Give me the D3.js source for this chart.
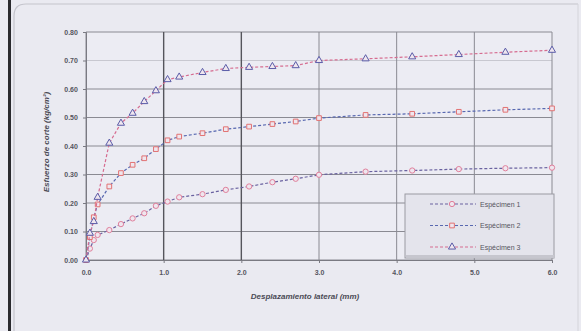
<!DOCTYPE html>
<html><head><meta charset="utf-8">
<script src="https://cdn.jsdelivr.net/npm/d3@7"></script>
<style>
html,body{margin:0;padding:0;background:#eaeaf1;}
svg{display:block;font-family:"Liberation Sans",Arial,sans-serif;}
</style></head>
<body><svg id="c" width="581" height="331"></svg>
<script>
const xValues = [0, 0.05, 0.1, 0.15, 0.3, 0.45, 0.6, 0.75, 0.9, 1.05, 1.2, 1.5, 1.8, 2.1, 2.4, 2.7, 3.0, 3.6, 4.2, 4.8, 5.4, 6.0];
const esp1 = [0, 0.04, 0.07, 0.088, 0.105, 0.126, 0.146, 0.164, 0.19, 0.205, 0.22, 0.231, 0.246, 0.258, 0.273, 0.285, 0.299, 0.31, 0.314, 0.319, 0.322, 0.324];
const esp2 = [0, 0.08, 0.15, 0.195, 0.258, 0.305, 0.334, 0.357, 0.389, 0.42, 0.433, 0.445, 0.459, 0.468, 0.477, 0.486, 0.498, 0.509, 0.513, 0.52, 0.527, 0.532];
const esp3 = [0, 0.094, 0.135, 0.22, 0.41, 0.48, 0.515, 0.556, 0.594, 0.633, 0.642, 0.658, 0.672, 0.676, 0.679, 0.682, 0.70, 0.706, 0.713, 0.721, 0.729, 0.736];
const seriesNames = ["Espécimen 1", "Espécimen 2", "Espécimen 3"];
const xTicks = [0, 1, 2, 3, 4, 5, 6];
const yTicks = [0, 0.1, 0.2, 0.3, 0.4, 0.5, 0.6, 0.7, 0.8];
const xTitle = "Desplazamiento lateral (mm)";
const yTitle = "Esfuerzo de corte (kg/cm²)";

const svg = d3.select("#c");
// page decorations
svg.append("rect").attr("x",0).attr("y",0).attr("width",581).attr("height",331).attr("fill","#eaeaf1");
svg.append("rect").attr("x",8).attr("y",0).attr("width",3).attr("height",331).attr("fill","#2a2a2e");
svg.append("path").attr("d","M14,345 L14,16 Q14,4 26,4 L578,4").attr("fill","none").attr("stroke","#c4c4cc").attr("stroke-width",1.2);
svg.append("line").attr("x1",578).attr("x2",578).attr("y1",4).attr("y2",331).attr("stroke","#d4d4da");

const x = d3.scaleLinear().domain([0,6]).range([86,552]);
const y = d3.scaleLinear().domain([0,0.8]).range([260,32]);

const g = svg.append("g");
g.append("rect").attr("x",x(0)).attr("y",y(0.8)).attr("width",x(6)-x(0)).attr("height",y(0)-y(0.8)).attr("fill","#ececf3");

// gridlines
g.append("g").selectAll("line").data(yTicks).join("line")
  .attr("x1",x(0)).attr("x2",x(6)).attr("y1",d=>y(d)).attr("y2",d=>y(d))
  .attr("stroke",d=>Math.abs(d-0.7)<1e-6?"#c8c8d0":"#8a8a92").attr("stroke-width",1);
g.append("g").selectAll("line").data(xTicks).join("line")
  .attr("y1",y(0)).attr("y2",y(0.8)).attr("x1",d=>x(d)).attr("x2",d=>x(d))
  .attr("stroke",d=>(d===1||d===2)?"#55555c":"#8a8a92").attr("stroke-width",d=>(d===1||d===2)?1.4:1);

// axes
const xAxis = d3.axisBottom(x).tickValues(xTicks).tickFormat(d3.format(".1f")).tickSize(3);
const yAxis = d3.axisLeft(y).tickValues(yTicks).tickFormat(d3.format(".2f")).tickSize(3);
const gx = g.append("g").attr("transform",`translate(0,${y(0)})`).call(xAxis);
const gy = g.append("g").attr("transform",`translate(${x(0)},0)`).call(yAxis);
[gx,gy].forEach(a=>{
  a.select(".domain").attr("stroke","#7a7a82");
  a.selectAll(".tick line").attr("stroke","#7a7a82");
  a.selectAll("text").attr("fill","#555560").attr("font-size",7).attr("font-weight","bold");
});
gx.selectAll("text").attr("dy","1.3em");
gy.selectAll("text").attr("dx","-0.3em");

// titles
svg.append("text").attr("x",305).attr("y",299).attr("text-anchor","middle")
  .attr("font-size",8).attr("font-style","italic").attr("font-weight","bold").attr("fill","#4a4a55").text(xTitle);
svg.append("text").attr("transform",`translate(49,142) rotate(-90)`).attr("text-anchor","middle")
  .attr("font-size",8).attr("font-style","italic").attr("font-weight","bold").attr("fill","#4a4a55").text(yTitle);

const series = [
  {name:seriesNames[0], vals:esp1, line:"#6a62a0", mark:"#e0809c", shape:d3.symbolCircle},
  {name:seriesNames[1], vals:esp2, line:"#5868b0", mark:"#e27272", shape:d3.symbolSquare},
  {name:seriesNames[2], vals:esp3, line:"#d66c90", mark:"#5a5ca8", shape:d3.symbolTriangle}
];
const lineGen = d3.line().x(d=>x(d[0])).y(d=>y(d[1]));
series.forEach(s=>{
  const pts = xValues.map((v,i)=>[v,s.vals[i]]);
  g.append("path").datum(pts).attr("d",lineGen).attr("fill","none")
    .attr("stroke",s.line).attr("stroke-width",1.2).attr("stroke-dasharray","3,2");
  g.append("g").selectAll("path").data(pts).join("path")
    .attr("transform",d=>`translate(${x(d[0])},${y(d[1])})`)
    .attr("d",d3.symbol().type(s.shape).size(22))
    .attr("fill","#efe6ee").attr("stroke",s.mark).attr("stroke-width",1);
});

// legend
const lg = svg.append("g");
lg.append("rect").attr("x",405).attr("y",194).attr("width",149).attr("height",64).attr("fill","#e4e4ec").attr("stroke","#9a9aa2");
lg.append("rect").attr("x",406).attr("y",255).attr("width",148).attr("height",3).attr("fill","#c6c6ce");
series.forEach((s,i)=>{
  const ly = 204 + i*21.5;
  lg.append("line").attr("x1",430).attr("x2",476).attr("y1",ly).attr("y2",ly)
    .attr("stroke",s.line).attr("stroke-width",1.2).attr("stroke-dasharray","3,2");
  lg.append("path").attr("transform",`translate(452,${ly})`).attr("d",d3.symbol().type(s.shape).size(22)())
    .attr("fill","#efe6ee").attr("stroke",s.mark).attr("stroke-width",1);
  lg.append("text").attr("x",480).attr("y",ly+2.5).attr("font-size",7).attr("fill","#555560").text(s.name);
});
</script></body></html>
